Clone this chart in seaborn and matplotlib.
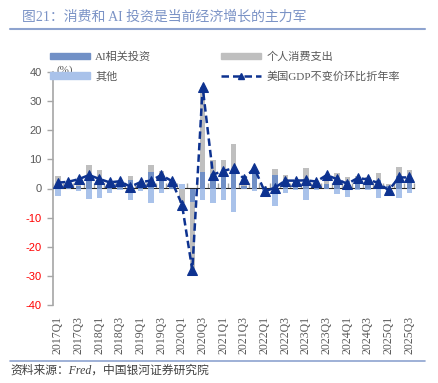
import numpy as np
import pandas as pd
import matplotlib
matplotlib.use('Agg')
import matplotlib.pyplot as plt
import seaborn as sns
from matplotlib.patches import Patch
from matplotlib.lines import Line2D

# quarters 2017Q1 .. 2025Q3
quarters = [f'{y}Q{q}' for y in range(2017, 2026) for q in range(1, 5)][:35]

# contribution to growth (pp)
ai_invest = [0.8, 0.5, 0.8, 4.5, 3.5, 1.0, 0.8, 3.0, 0.8, 5.5, 4.0, 1.0,
             -0.3, -4.6, 5.7, 5.0, 5.0, 6.0, 1.0, 6.0, 0.5, 4.5, 3.0, 1.5,
             3.0, 1.0, 1.5, 3.0, 2.5, 2.0, 2.0, 3.0, 1.0, 4.3, 3.7]
consumption = [3.5, 1.5, 1.7, 3.5, 2.8, 1.5, 1.0, 1.3, 0.9, 2.5, 2.1, 1.0,
               -4.6, -23.4, 29.3, 4.8, 4.8, 9.3, 2.0, 0.5, 0.5, 2.3, 1.8, 1.5,
               4.1, 1.5, 2.0, 2.4, 1.5, 2.2, 1.8, 2.4, 0.5, 3.2, 2.6]
other = [-2.5, 0.3, -1.0, -3.7, -3.2, -1.5, -0.5, -4.0, -1.0, -4.9, -1.5, 0.6,
         1.5, -0.5, -4.0, -4.9, -4.0, -8.2, 0.3, -1.0, -2.0, -6.1, -1.7, -0.5,
         -4.0, -0.5, 1.0, -1.8, -3.0, -0.5, -0.6, -3.2, -2.0, -3.2, -1.5]
gdp = [2.0, 2.3, 3.2, 4.6, 3.3, 2.1, 2.5, 0.6, 2.2, 2.7, 4.6, 2.6,
       -5.5, -28.0, 34.8, 4.8, 6.0, 7.0, 3.3, 7.0, -1.0, 0.3, 2.7, 2.7,
       2.8, 2.4, 4.6, 3.2, 1.6, 3.6, 3.1, 1.9, -0.6, 3.8, 3.8]

c_ai = '#7190c6'
c_cons = '#bfbfbf'
c_other = '#a9c2ea'
c_line = '#0d3290'
c_rule = '#8ea3cf'

sns.set_style('white')
plt.rcParams['font.family'] = ['Liberation Serif', 'Noto Sans CJK SC']
plt.rcParams['axes.unicode_minus'] = False

fig = plt.figure(figsize=(4.38, 3.83), dpi=100)
ax = fig.add_axes([52.8 / 438, 1 - 305 / 383, (414.5 - 52.8) / 438, (305 - 72) / 383])

x = np.arange(len(quarters))

# stacked bars, positives and negatives piled separately (like excel)
pos = np.zeros(len(x))
neg = np.zeros(len(x))
for vals, col in [(ai_invest, c_ai), (consumption, c_cons), (other, c_other)]:
    v = np.asarray(vals)
    bottom = np.where(v >= 0, pos, neg)
    ax.bar(x, v, bottom=bottom, width=0.5, color=col, linewidth=0, zorder=2)
    pos = pos + np.where(v >= 0, v, 0)
    neg = neg + np.where(v < 0, v, 0)

df = pd.DataFrame({'x': x, 'gdp': gdp})
sns.lineplot(data=df, x='x', y='gdp', ax=ax, color=c_line, linestyle=(0, (3, 1.6)),
             linewidth=1.8, marker='^', markersize=6.5, markeredgecolor=c_line,
             markerfacecolor=c_line, zorder=4, sort=False)

ax.set_xlim(-0.5, len(x) - 0.5)
ax.set_ylim(-40, 40)
ax.set_yticks(range(-40, 41, 10))
ax.set_xlabel('')
ax.set_ylabel('')

for s in ['top', 'right', 'bottom']:
    ax.spines[s].set_visible(False)
ax.spines['left'].set_color('#a6a6a6')
ax.spines['left'].set_linewidth(1.2)

ax.tick_params(axis='y', direction='out', length=4, width=1, color='#a6a6a6',
               labelsize=8, pad=4, left=True)
for lab, val in zip(ax.get_yticklabels(), ax.get_yticks()):
    lab.set_color('#ff0000' if val < 0 else '#595959')
    lab.set_fontfamily('Liberation Sans')

# labels at the bottom, every other quarter
ax.set_xticks(x[::2])
ax.set_xticklabels(quarters[::2], rotation=90, fontsize=8.5, color='#595959')
ax.tick_params(axis='x', length=0, pad=8)

# zero axis with a tick at each quarter boundary
zero_ax = ax.secondary_xaxis(0.5)
bounds = np.arange(-0.5, len(x), 1.0)
zero_ax.set_xticks(bounds, labels=[''] * len(bounds))
zero_ax.tick_params(axis='x', direction='out', length=3.5, width=1, color='#a6a6a6')
zero_ax.spines['bottom'].set_color('#a6a6a6')
zero_ax.spines['bottom'].set_linewidth(1.2)

ax.text(-0.1, 40.5, '(%)', fontsize=8, color='#595959', ha='left', va='center')

handles = [Patch(color=c_ai), Patch(color=c_other), Patch(color=c_cons),
           Line2D([0], [0], color=c_line, linestyle=(0, (3, 1.6)), linewidth=1.8,
                  marker='^', markersize=5)]
labels = ['AI相关投资', '其他', '个人消费支出', '美国GDP不变价环比折年率']
fig.legend(handles, labels, loc='upper left', bbox_to_anchor=(44 / 438, 1 - 46 / 383),
           ncol=2, frameon=False, fontsize=8, handlelength=3.6, handleheight=0.55,
           handletextpad=0.5, columnspacing=6.3, labelspacing=0.85, borderpad=0,
           labelcolor='#595959')

# title and footer
fig.text(22 / 438, 1 - 17 / 383, '图21：消费和 AI 投资是当前经济增长的主力军',
         fontsize=10, color='#7b93c6', ha='left', va='center')
fig.add_artist(Line2D([10 / 438, 425 / 438], [1 - 29 / 383] * 2, color=c_rule, linewidth=1.5))
fig.add_artist(Line2D([10 / 438, 425 / 438], [1 - 361 / 383] * 2, color=c_rule, linewidth=1.2))
fig.text(10 / 438, 1 - 371 / 383, '资料来源：Fred，中国银河证券研究院',
         fontsize=8.5, color='#404040', ha='left', va='center', style='italic')

fig.savefig('out.png', dpi=100)
